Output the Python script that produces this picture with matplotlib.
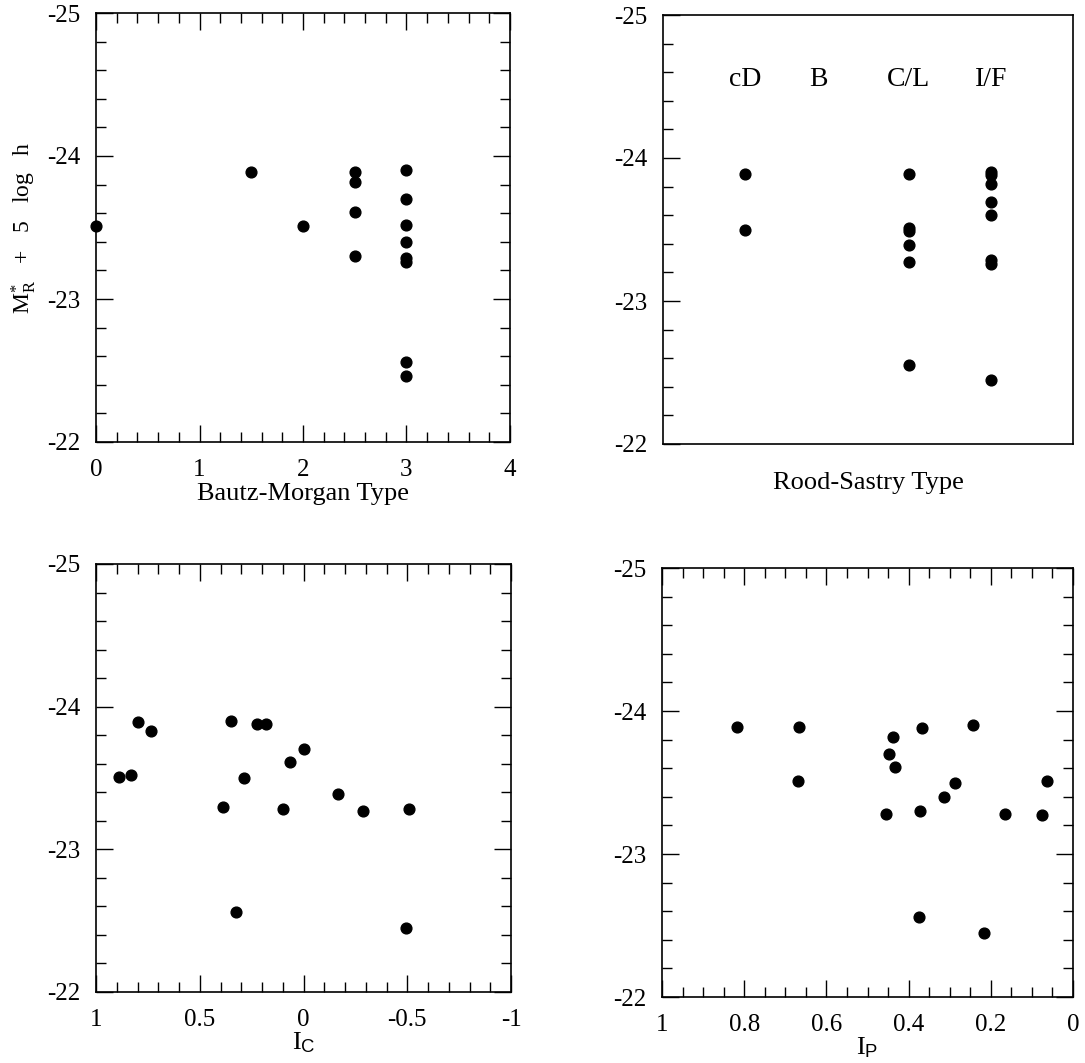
'''
Absolute magnitude of the brightest galaxy vs cluster morphology indicators
'''

import matplotlib
matplotlib.use('Agg')
import matplotlib.pyplot as plt
from matplotlib.ticker import MultipleLocator

plt.rcParams['font.family'] = ['Liberation Serif', 'DejaVu Serif']
plt.rcParams['mathtext.fontset'] = 'custom'
plt.rcParams['mathtext.rm'] = 'Liberation Serif'
plt.rcParams['mathtext.it'] = 'Liberation Serif:italic'
plt.rcParams['mathtext.sf'] = 'Liberation Sans'

# Bautz-Morgan type
bm_type = [0, 1.5, 2, 2.5, 2.5, 2.5, 2.5, 3, 3, 3, 3, 3, 3, 3, 3]
bm_mag = [-23.51, -23.89, -23.51, -23.89, -23.82, -23.61, -23.30,
          -23.90, -23.70, -23.52, -23.40, -23.29, -23.26, -22.56, -22.46]

# Rood-Sastry type (categories placed at 1..4)
rs_names = ['cD', 'B', 'C/L', 'I/F']
rs_label_x = [1.0, 1.9, 3.0, 4.0]
rs_type = [1, 1, 3, 3, 3, 3, 3, 3, 4, 4, 4, 4, 4, 4, 4, 4]
rs_mag = [-23.89, -23.50, -23.89, -23.51, -23.49, -23.39, -23.27, -22.55,
          -23.90, -23.88, -23.82, -23.69, -23.60, -23.29, -23.26, -22.45]

# I_C
ic = [0.887, 0.833, 0.797, 0.737, 0.387, 0.348, 0.323, 0.287, 0.222,
      0.182, 0.10, 0.067, 0.0, -0.168, -0.287, -0.493, -0.508]
ic_mag = [-23.51, -23.52, -23.89, -23.83, -23.30, -23.90, -22.56, -23.50,
          -23.88, -23.88, -23.28, -23.61, -23.70, -23.39, -23.27, -22.45, -23.28]

# I_P
ip = [0.817, 0.667, 0.669, 0.439, 0.447, 0.434, 0.454, 0.367, 0.373,
      0.375, 0.314, 0.287, 0.243, 0.217, 0.165, 0.076, 0.063]
ip_mag = [-23.89, -23.89, -23.51, -23.82, -23.70, -23.61, -23.28, -23.88,
          -23.30, -22.56, -23.40, -23.50, -23.90, -22.45, -23.28, -23.27, -23.51]

W, H = 1085, 1063
fig = plt.figure(figsize=(W / 100, H / 100), dpi=100)


def box(l, r, t, b):
    return [l / W, 1 - b / H, (r - l) / W, (b - t) / H]


ax1 = fig.add_axes(box(96, 510, 13, 442))
ax2 = fig.add_axes(box(663, 1073, 15, 444))
ax3 = fig.add_axes(box(96, 511, 564, 992))
ax4 = fig.add_axes(box(662, 1073, 568, 997))

ms = 60
tfs = 18
lfs = 19


def style(ax, xmaj, xmin, all_sides=True):
    ax.set_ylim(-22, -25)
    ax.yaxis.set_major_locator(MultipleLocator(1))
    ax.yaxis.set_minor_locator(MultipleLocator(0.2))
    if xmaj:
        ax.xaxis.set_major_locator(MultipleLocator(xmaj))
        ax.xaxis.set_minor_locator(MultipleLocator(xmin))
    ax.tick_params(which='both', direction='in', top=all_sides, right=all_sides,
                   labelsize=tfs, width=1.0)
    ax.tick_params(axis='y', pad=11)
    ax.tick_params(axis='x', pad=12)
    ax.tick_params(which='major', length=12)
    ax.tick_params(which='minor', length=7)
    for s in ax.spines.values():
        s.set_linewidth(1.2)
    ax.yaxis.set_major_formatter(plt.FuncFormatter(lambda v, p: '%d' % v))


# panel 1
ax1.scatter(bm_type, bm_mag, s=ms, c='black', clip_on=False, zorder=3)
ax1.set_xlim(0, 4)
style(ax1, 1, 0.2)
ax1.set_xlabel('Bautz-Morgan Type', fontsize=lfs, labelpad=2)
ax1.set_ylabel(r'M$^{*}_{\rm R}$   +   5   log   h', fontsize=17, labelpad=7)

# panel 2
ax2.scatter(rs_type, rs_mag, s=ms, c='black', zorder=3)
ax2.set_xlim(0, 5)
style(ax2, None, None, all_sides=False)
ax2.set_xticks([])
for name, xp in zip(rs_names, rs_label_x):
    ax2.text(xp, -24.55, name, ha='center', va='center', fontsize=20)
ax2.set_xlabel('Rood-Sastry Type', fontsize=lfs, labelpad=20)

# panel 3
ax3.scatter(ic, ic_mag, s=ms, c='black', zorder=3)
ax3.set_xlim(1, -1)
style(ax3, 0.5, 0.1)
ax3.xaxis.set_major_formatter(plt.FuncFormatter(lambda v, p: '%g' % v))
ax3.set_xlabel(r'I$_{\mathsf{C}}$', fontsize=lfs, labelpad=0)

# panel 4
ax4.scatter(ip, ip_mag, s=ms, c='black', zorder=3)
ax4.set_xlim(1, 0)
style(ax4, 0.2, 0.05)
ax4.xaxis.set_major_formatter(plt.FuncFormatter(lambda v, p: '%g' % v))
ax4.set_xlabel(r'I$_{\mathsf{P}}$', fontsize=lfs, labelpad=0)

plt.savefig('out.png', dpi=100)
print('DONE')
